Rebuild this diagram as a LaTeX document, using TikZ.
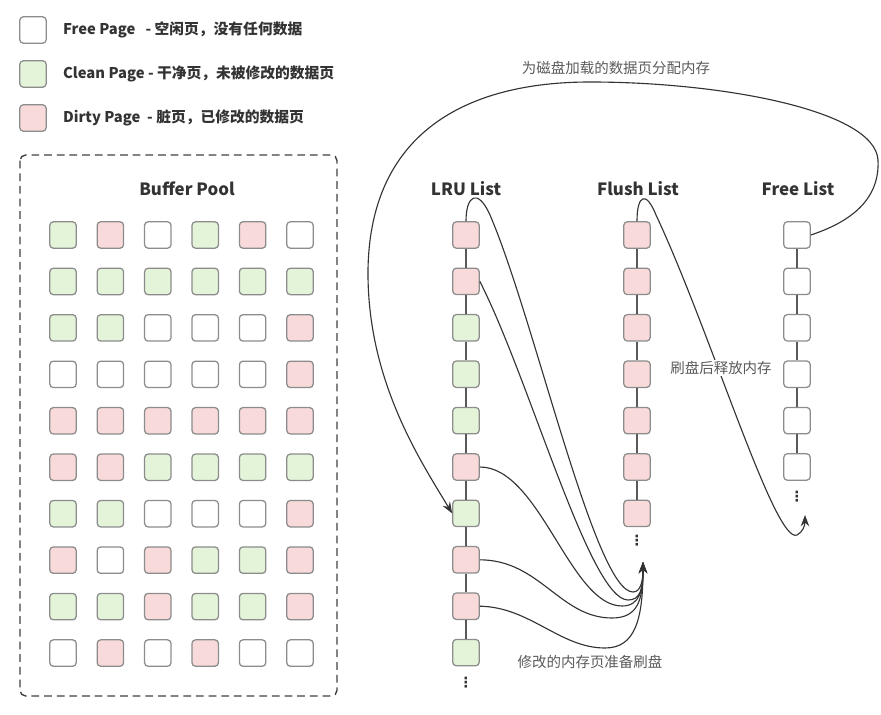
\documentclass[tikz,border=0pt]{standalone}
\usepackage{fontspec}
\setmainfont{Noto Sans CJK SC}
\newfontfamily\dotsfont{DejaVu Sans}
\usetikzlibrary{positioning,arrows.meta}
\definecolor{pgW}{HTML}{FFFFFF}
\definecolor{pgG}{HTML}{E3F4D9}
\definecolor{pgR}{HTML}{F9DADA}
\definecolor{edgegray}{HTML}{8C8C8C}
\definecolor{inkgray}{HTML}{333333}
\definecolor{notegray}{HTML}{5A5A5A}

\begin{document}
\begin{tikzpicture}[
  x=0.025cm, y=-0.025cm,
  pagebox/.style={draw=edgegray, line width=0.9pt, rounded corners=2.5pt, minimum size=0.66cm, inner sep=0pt},
  keytext/.style={font=\fontsize{10.5}{12}\selectfont\bfseries, text=inkgray, inner sep=0pt},
  listtitle/.style={font=\fontsize{12}{14}\selectfont\bfseries, text=inkgray},
  note/.style={font=\fontsize{10.3}{12}\selectfont, text=notegray},
  dots/.style={font=\dotsfont\fontsize{10}{12}\selectfont\bfseries, text=inkgray, inner sep=0pt},
  link/.style={draw=black!65, line width=0.9pt},
  flow/.style={-{Stealth[length=8pt,width=6pt]}, line width=0.8pt, draw=inkgray},
  poolframe/.style={draw=black!75, line width=1pt, dash pattern=on 5.5pt off 3.5pt, rounded corners=4pt}
]
\useasboundingbox (0,0) rectangle (881,715);

% legend
\node[pagebox, fill=pgW] (keyfree) at (33,30) {};
\node[pagebox, fill=pgG] (keyclean) at (33,74) {};
\node[pagebox, fill=pgR] (keydirty) at (33,118) {};
\node[keytext, right=0.4cm of keyfree] (keyfreetext) {Free Page \ \ - 空闲页，没有任何数据};
\node[keytext, right=0.4cm of keyclean] (keycleantext) {Clean Page - 干净页，未被修改的数据页};
\node[keytext, right=0.4cm of keydirty] (keydirtytext) {Dirty Page \ - 脏页，已修改的数据页};

% buffer pool
\draw[poolframe] (20,155) rectangle (337,696);
\node[listtitle] (pooltitle) at (187,189) {Buffer Pool};
\foreach \cols [count=\r] in {{G,R,W,G,R,W},{G,G,G,G,G,G},{G,G,W,W,W,R},{W,W,W,W,W,R},{R,R,R,R,R,R},
                              {R,R,G,G,G,G},{G,G,W,W,W,R},{R,W,R,G,G,R},{G,G,R,G,G,R},{W,R,W,R,W,W}}
  \foreach \c [count=\k] in \cols
    \node[pagebox, fill=pg\c] (bp-\r-\k) at ({15.6+47.4*\k}, {188.55+46.45*\r}) {};

% lists
\node[listtitle] (lrutitle) at (466,189) {LRU List};
\node[listtitle] (flushtitle) at (638,189) {Flush List};
\node[listtitle] (freetitle) at (798,189) {Free List};

\foreach \c [count=\i] in {R,R,G,G,G,R,G,R,R,G}
  \node[pagebox, fill=pg\c] (lru\i) at (466, {188.6+46.4*\i}) {};
\foreach \i [count=\j from 2] in {1,...,9}
  \draw[link] (lru\i) -- (lru\j);
\node[dots] (lrudots) at (466,683) {⋮};

\foreach \i in {1,...,7}
  \node[pagebox, fill=pgR] (fl\i) at (637, {188.6+46.4*\i}) {};
\foreach \i [count=\j from 2] in {1,...,6}
  \draw[link] (fl\i) -- (fl\j);
\node[dots] (fldots) at (637,541) {⋮};

\foreach \i in {1,...,6}
  \node[pagebox, fill=pgW] (fr\i) at (797, {188.6+46.4*\i}) {};
\foreach \i [count=\j from 2] in {1,...,5}
  \draw[link] (fr\i) -- (fr\j);
\node[dots] (frdots) at (797,497) {⋮};

\coordinate (flushin) at (643,562);
\coordinate (freein) at (805,515);

% dirty pages go to flush list
\draw[flow] (lru1.north) .. controls (466,195) and (478,188) .. (490,215)
  .. controls (535,320) and (595,592) .. (633,592) .. controls (641,592) and (643,580) .. (flushin);
\draw[flow] (lru2.east) .. controls (530,380) and (590,600) .. (628,600)
  .. controls (640,600) and (643,590) .. (flushin);
\draw[flow] (lru6.east) .. controls (540,467) and (570,606) .. (622,606)
  .. controls (640,606) and (643,590) .. (flushin);
\draw[flow] (lru8.east) .. controls (540,560) and (560,618) .. (612,618)
  .. controls (638,618) and (643,600) .. (flushin);
\draw[flow] (lru9.east) .. controls (530,607) and (560,648) .. (605,648)
  .. controls (635,648) and (643,620) .. (flushin);
\node[note] (dirtynote) at (590,662) {修改的内存页准备刷盘};

% flushed pages are freed
\draw[flow] (fl1.north) .. controls (637,195) and (646,190) .. (656,215)
  .. controls (710,330) and (775,545) .. (797,535) .. controls (803,532) and (805,525) .. (freein);
\node[note, fill=white, inner sep=1pt] (flushnote) at (721,368) {刷盘后释放内存};

% free pages used for loading
\draw[flow] (fr1.east) .. controls (850,222) and (880,200) .. (878,160)
  .. controls (875,110) and (720,82) .. (590,82)
  .. controls (470,82) and (370,130) .. (368,270)
  .. controls (367,380) and (420,460) .. (lru7.west);
\node[note] (loadnote) at (616,68) {为磁盘加载的数据页分配内存};
\end{tikzpicture}
\end{document}
